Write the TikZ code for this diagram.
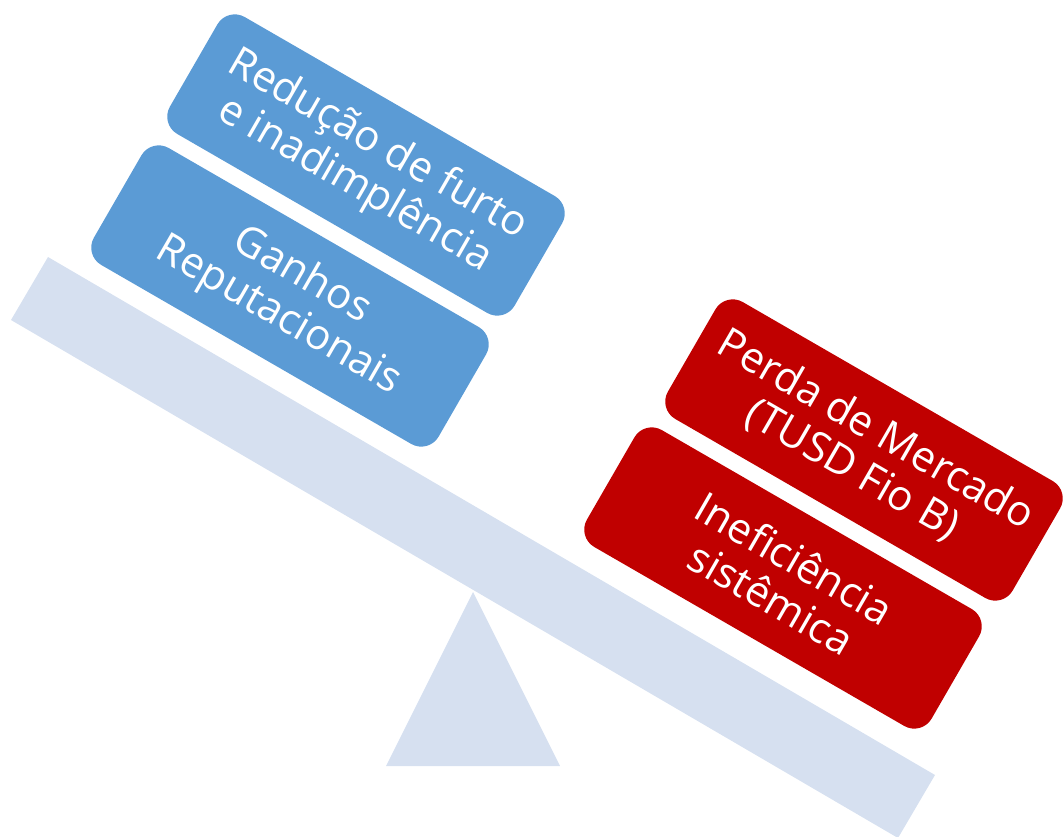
\documentclass[tikz,border=0pt]{standalone}
\usepackage{fontspec}
\setmainfont{Open Sans}
\definecolor{beamcol}{HTML}{D6E0F0}
\definecolor{boxblue}{HTML}{5B9BD5}
\definecolor{boxred}{HTML}{C00000}
\begin{document}
\begin{tikzpicture}[x=1pt,y=-1pt,
  plate/.style={rotate=-30, rounded corners=20pt, minimum width=398pt, minimum height=135pt,
    inner sep=0pt, text=white, align=center, font=\fontsize{42}{46}\selectfont},
  blueplate/.style={plate, fill=boxblue},
  redplate/.style={plate, fill=boxred}]
\useasboundingbox (0,0) rectangle (1063,837);
\clip (0,0) rectangle (1063,837);
\fill[beamcol] (48,257) -- (935,775) -- (898,838) -- (11,320) -- cycle;
\fill[beamcol] (473,592) -- (560,766) -- (386,766) -- cycle;
\node[blueplate] (b1) at (366,165) {Redução de furto\\e inadimplência};
\node[blueplate] (b2) at (290,296) {Ganhos\\Reputacionais};
\node[redplate] (r1) at (864,450) {Perda de Mercado\\(TUSD Fio B)};
\node[redplate] (r2) at (783,578) {Ineficiência\\sistêmica};
\end{tikzpicture}
\end{document}
